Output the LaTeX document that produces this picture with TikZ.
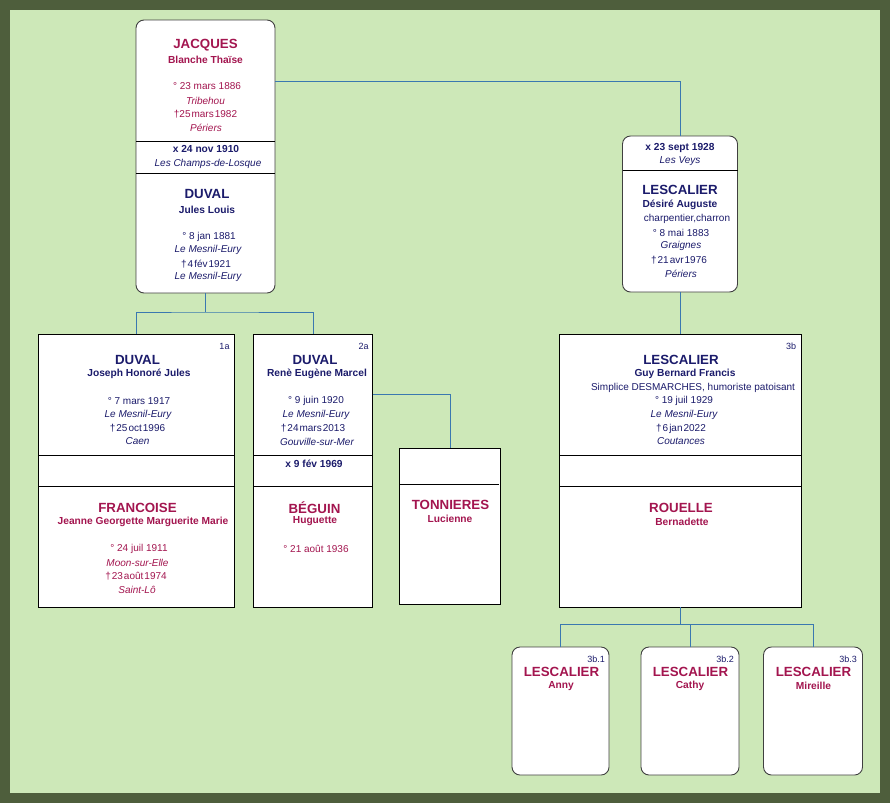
\documentclass[tikz,border=0pt]{standalone}
\usepackage{fontspec}
\setmainfont{Liberation Sans}
\definecolor{frame}{HTML}{4E5E3C}
\definecolor{bg}{HTML}{CDE8B8}
\definecolor{fem}{HTML}{A3154F}
\definecolor{mas}{HTML}{1B1B6B}
\definecolor{conn}{HTML}{3A78B0}
\begin{document}
\begin{tikzpicture}[x=1pt,y=-1pt,
  box/.style={draw=black,line width=0.9pt,fill=white,anchor=north west,inner sep=0pt,outer sep=0pt},
  rbox/.style={box,rounded corners=8pt,draw=black!75},
  sep/.style={draw=black,line width=0.9pt},
  link/.style={draw=conn,line width=0.8pt},
  sur/.style={font=\bfseries\fontsize{13.3}{13.3}\selectfont,inner sep=0pt},
  given/.style={font=\bfseries\fontsize{10.2}{10.2}\selectfont,inner sep=0pt},
  dt/.style={font=\fontsize{10}{10}\selectfont,inner sep=0pt},
  pl/.style={font=\itshape\fontsize{10}{10}\selectfont,inner sep=0pt},
  num/.style={font=\fontsize{9}{9}\selectfont,inner sep=0pt,text=mas},
  m/.style={text=mas}, f/.style={text=fem}]
\fill[frame] (0,0) rectangle (890,803);
\fill[bg] (10,10) rectangle (880,793);
\useasboundingbox (0,0) rectangle (890,803);

% boxes
\node[rbox,minimum width=139pt,minimum height=273pt] (jd) at (136,20) {};
\node[rbox,minimum width=115pt,minimum height=156pt] (ld) at (622.5,136) {};
\node[box,minimum width=196pt,minimum height=273pt] (dj) at (38.5,334) {};
\node[box,minimum width=119pt,minimum height=273pt] (dr) at (253.5,334) {};
\node[box,minimum width=101pt,minimum height=156pt] (tl) at (399.5,448) {};
\node[box,minimum width=242pt,minimum height=273pt] (lg) at (559.5,334) {};
\node[rbox,minimum width=97pt,minimum height=128pt] (la) at (512,647) {};
\node[rbox,minimum width=98pt,minimum height=128pt] (lc) at (641,647) {};
\node[rbox,minimum width=99pt,minimum height=128pt] (lm) at (763.5,647) {};

% dividers
\draw[sep] (jd.west |- 0,141.7) -- (jd.east |- 0,141.7);
\draw[sep] (jd.west |- 0,173.3) -- (jd.east |- 0,173.3);
\draw[sep] (ld.west |- 0,170) -- (ld.east |- 0,170);
\draw[sep] (dj.west |- 0,455.5) -- (dj.east |- 0,455.5);
\draw[sep] (dj.west |- 0,486.5) -- (dj.east |- 0,486.5);
\draw[sep] (dr.west |- 0,455.5) -- (dr.east |- 0,455.5);
\draw[sep] (dr.west |- 0,486.5) -- (dr.east |- 0,486.5);
\draw[sep] (tl.west |- 0,484.3) -- ([xshift=-1.5pt]tl.east |- 0,484.3);
\draw[sep] (lg.west |- 0,455.5) -- (lg.east |- 0,455.5);
\draw[sep] (lg.west |- 0,486.5) -- (lg.east |- 0,486.5);

% connectors
\coordinate (j1) at (275,81);
\draw[link] (jd.east |- j1) -| (ld.north);
\coordinate (s1) at (205.5,312);
\draw[link] (jd.south) -- (s1);
\draw[link] (dj.north) |- (s1) -| (dr.north);
\coordinate (r1) at (372,394);
\draw[link] (dr.east |- r1) -| (tl.north);
\draw[link] (ld.south) -- (ld.south |- lg.north);
\coordinate (g1) at (680.5,624.5);
\draw[link] (lg.south) -- (g1);
\draw[link] (la.north) |- (g1) -| (lm.north);
\draw[link] (lc.north) -- (lc.north |- g1);

% texts box jd
\node[sur,f] (t1) at (205.5,45) {JACQUES};
\node[given,f] (t2) at (205.5,59.5) {Blanche Thaïse};
\node[dt,f] (t3) at (207,86.5) {° 23 mars 1886};
\node[pl,f] (t4) at (205.5,100.5) {Tribehou};
\node[dt,f] (t5) at (205.5,114.5) {†25\hspace{1pt}mars\hspace{1pt}1982};
\node[pl,f] (t6) at (206,128) {Périers};
\node[given,m] (t7) at (206,149) {x 24 nov 1910};
\node[pl,m] (t8) at (208,163.5) {Les Champs-de-Losque};
\node[sur,m] (t9) at (207,194) {DUVAL};
\node[given,m] (t10) at (207,209.5) {Jules Louis};
\node[dt,m] (t11) at (209,236.5) {° 8 jan 1881};
\node[pl,m] (t12) at (208,250) {Le Mesnil-Eury};
\node[dt,m] (t13) at (206,264) {†\hspace{1pt}4\hspace{1pt}fév\hspace{1pt}1921};
\node[pl,m] (t14) at (208,277) {Le Mesnil-Eury};

% box ld
\node[given,m] (u1) at (680,147.5) {x 23 sept 1928};
\node[pl,m] (u2) at (680,161.5) {Les Veys};
\node[sur,m] (u3) at (680,190) {LESCALIER};
\node[given,m] (u4) at (680,204.5) {Désiré Auguste};
\node[dt,m] (u5) at (687,218.5) {charpentier,charron};
\node[dt,m] (u6) at (681,232.5) {° 8 mai 1883};
\node[pl,m] (u7) at (681,246) {Graignes};
\node[dt,m] (u8) at (679,260) {†\hspace{1pt}21\hspace{1pt}avr\hspace{1pt}1976};
\node[pl,m] (u9) at (681,273.5) {Périers};

% box dj
\node[num] (v0) at (224.5,346) {1a};
\node[sur,m] (v1) at (137.5,359.5) {DUVAL};
\node[given,m] (v2) at (139,374) {Joseph Honoré Jules};
\node[dt,m] (v3) at (139,401) {° 7 mars 1917};
\node[pl,m] (v4) at (138,414.5) {Le Mesnil-Eury};
\node[dt,m] (v5) at (137.5,428.5) {†\hspace{1pt}25\hspace{1pt}oct\hspace{1pt}1996};
\node[pl,m] (v6) at (137.5,441.5) {Caen};
\node[sur,f] (v7) at (137.5,507.5) {FRANCOISE};
\node[given,f] (v8) at (143,521.5) {Jeanne Georgette Marguerite Marie};
\node[dt,f] (v9) at (139,548.5) {° 24 juil 1911};
\node[pl,f] (v10) at (137.5,562.5) {Moon-sur-Elle};
\node[dt,f] (v11) at (136,576) {†\hspace{1pt}23\hspace{1pt}août\hspace{1pt}1974};
\node[pl,f] (v12) at (137,589.5) {Saint-Lô};

% box dr
\node[num] (w0) at (363.5,346) {2a};
\node[sur,m] (w1) at (315,359.5) {DUVAL};
\node[given,m] (w2) at (317,374) {Renè Eugène Marcel};
\node[dt,m] (w3) at (316,401) {° 9 juin 1920};
\node[pl,m] (w4) at (316,414.5) {Le Mesnil-Eury};
\node[dt,m] (w5) at (313,428.5) {†\hspace{1pt}24\hspace{1pt}mars\hspace{1pt}2013};
\node[pl,m] (w6) at (317,441.5) {Gouville-sur-Mer};
\node[given,m] (w7) at (314,464) {x 9 fév 1969};
\node[sur,f] (w8) at (314.5,507.5) {BÉGUIN};
\node[given,f] (w9) at (315,521.5) {Huguette};
\node[dt,f] (w10) at (316,548.5) {° 21 août 1936};

% box tl
\node[sur,f] (x1) at (450.5,504.5) {TONNIERES};
\node[given,f] (x2) at (450,519) {Lucienne};

% box lg
\node[num] (y0) at (791,346) {3b};
\node[sur,m] (y1) at (681,359.5) {LESCALIER};
\node[given,m] (y2) at (685,374) {Guy Bernard Francis};
\node[dt,m] (y3) at (693,387.5) {Simplice DESMARCHES, humoriste patoisant};
\node[dt,m] (y4) at (684,401) {° 19 juil 1929};
\node[pl,m] (y5) at (684,414.5) {Le Mesnil-Eury};
\node[dt,m] (y6) at (681,428.5) {†\hspace{1pt}6\hspace{1pt}jan\hspace{1pt}2022};
\node[pl,m] (y7) at (681,441.5) {Coutances};
\node[sur,f] (y8) at (681,507.5) {ROUELLE};
\node[given,f] (y9) at (682,521.5) {Bernadette};

% children
\node[num] (z1) at (596,659) {3b.1};
\node[sur,f] (z2) at (561.5,672) {LESCALIER};
\node[given,f] (z3) at (561,686) {Anny};
\node[num] (z4) at (725,659) {3b.2};
\node[sur,f] (z5) at (690.5,672) {LESCALIER};
\node[given,f] (z6) at (690,686) {Cathy};
\node[num] (z7) at (848,659) {3b.3};
\node[sur,f] (z8) at (813.5,672) {LESCALIER};
\node[given,f] (z9) at (813.5,686) {Mireille};
\end{tikzpicture}
\end{document}
